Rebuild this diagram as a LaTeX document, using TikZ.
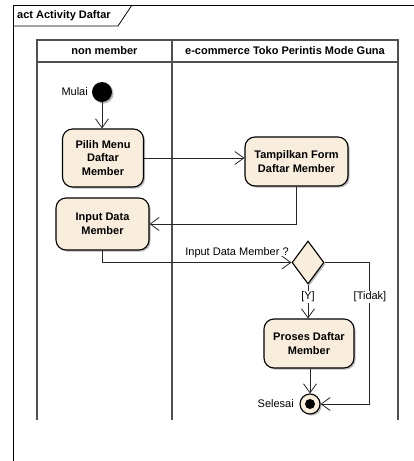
\documentclass[tikz,border=0pt]{standalone}
\usepackage{fontspec}
\setmainfont{Liberation Sans}
\usetikzlibrary{arrows.meta,shapes.geometric,shadows}
\definecolor{actfill}{RGB}{249,237,222}
\definecolor{lanecol}{RGB}{80,80,80}
\begin{document}
\begin{tikzpicture}[x=1pt,y=-1pt,
  font=\fontsize{11}{14}\selectfont,
  shad/.style={drop shadow={shadow xshift=1.6pt,shadow yshift=-1.6pt,fill=black!45,opacity=0.6}},
  action/.style={draw=black,line width=1.1pt,rounded corners=10pt,fill=actfill,
    font=\fontsize{11}{13.5}\selectfont\bfseries,align=center,inner sep=0pt,shad},
  flow/.style={line width=0.8pt,draw=black!85,
    -{Straight Barb[length=9pt,width=13pt,line width=0.8pt]}},
  lbl/.style={inner sep=1pt,font=\fontsize{11}{13}\selectfont},
  lane/.style={line width=1.8pt,draw=lanecol}]
\useasboundingbox (0,0) rectangle (414,461);
\fill[white] (0,0) rectangle (414,461);
% frame
\draw[line width=0.8pt] (414,5) -- (13,5) -- (13,461);
\draw[line width=0.8pt] (13,26) -- (118,26) -- (132,5);
\node[anchor=west,font=\fontsize{11}{13}\selectfont\bfseries,inner sep=0pt] (title) at (17,16) {act Activity Daftar};
% swimlanes
\draw[lane] (37,420) -- (37,40) -- (398,40) -- (398,420);
\draw[lane] (37,62) -- (398,62);
\draw[lane] (172,40) -- (172,420);
\node[font=\fontsize{11}{13}\selectfont\bfseries] (lane1) at (104.5,51) {non member};
\node[font=\fontsize{11}{13}\selectfont\bfseries] (lane2) at (285,51) {e-commerce Toko Perintis Mode Guna};
% nodes
\node[circle,fill=black,minimum size=20pt,inner sep=0pt,shad] (init) at (102,92) {};
\node[lbl,anchor=east] (mulai) at (89,92) {Mulai};
\node[action,minimum width=81pt,minimum height=58pt] (pilih) at (103,158) {Pilih Menu\\Daftar\\Member};
\node[action,minimum width=103pt,minimum height=49pt] (tamp) at (296.5,161.5) {Tampilkan Form\\Daftar Member};
\node[action,minimum width=93pt,minimum height=52pt] (input) at (102.5,224) {Input Data\\Member};
\node[diamond,draw=black,line width=1.1pt,fill=actfill,minimum width=32pt,minimum height=43pt,inner sep=0pt,shad] (dec) at (308,262.5) {};
\node[action,minimum width=90pt,minimum height=49pt] (proses) at (309,343.5) {Proses Daftar\\Member};
\node[circle,draw=black,line width=1.1pt,fill=actfill,minimum size=20pt,inner sep=0pt,shad] (final) at (310,404) {};
\node[circle,fill=black,minimum size=10pt,inner sep=0pt] (finalin) at (final.center) {};
\node[lbl,anchor=east] (selesai) at (295,404) {Selesai};
\coordinate (tk) at (369,262.5);
% connectors
\draw[flow] (init) -- (pilih.north -| init);
\draw[flow] (pilih.east) -- (pilih.east -| tamp.west);
\draw[flow] (tamp.south) |- (input.east);
\draw[flow] (input.south) |- (dec.west);
\draw[flow] (dec.south) -- (proses.north -| dec.south);
\draw[flow] (dec.east) -- (tk) |- (final.east);
\draw[flow] (proses.south -| final.north) -- (final.north);
% labels
\node[lbl] (qlbl) at (237,253) {Input Data Member ?};
\node[lbl,fill=white,inner sep=0.5pt] (ylbl) at (308,297) {[Y]};
\node[lbl,fill=white,inner sep=0.5pt] (tlbl) at (370,297) {[Tidak]};
\end{tikzpicture}
\end{document}
